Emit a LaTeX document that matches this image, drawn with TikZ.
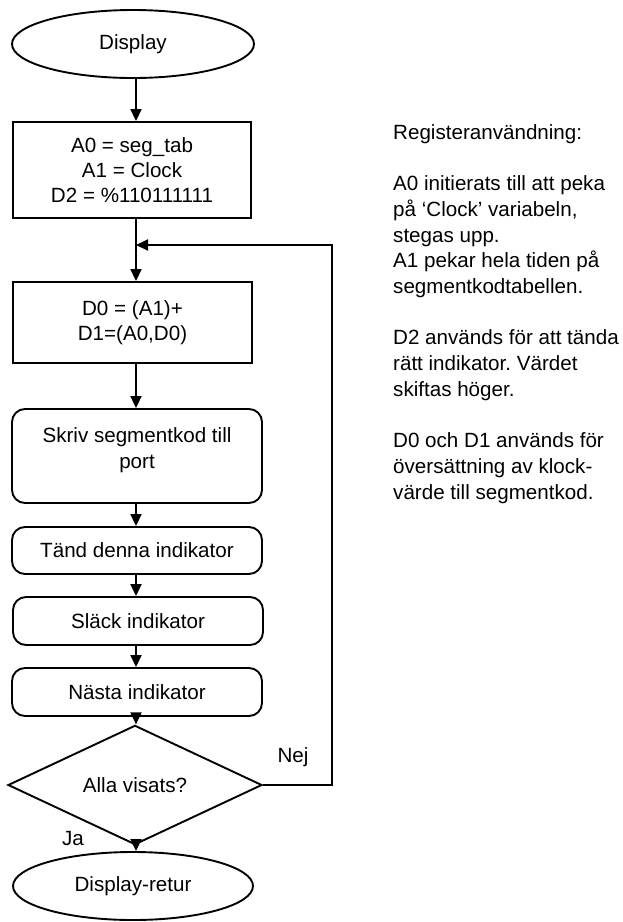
\documentclass[tikz,border=0pt]{standalone}
\usepackage{fontspec}
\setmainfont{Liberation Sans}
\usetikzlibrary{shapes.geometric,arrows.meta}
\frenchspacing
\begin{document}
\begin{tikzpicture}[x=1pt,y=-1pt,
  every node/.style={font=\fontsize{20.6}{25.2}\selectfont, inner sep=0pt},
  line/.style={line width=1.9pt},
  flow/.style={line, -{Triangle[length=12pt,width=11pt]}},
  terminal/.style={draw, line width=1.9pt, ellipse, minimum width=242pt, minimum height=68pt},
  procbox/.style={draw, line width=1.9pt, rectangle, align=center},
  roundbox/.style={draw, line width=1.9pt, rounded corners=13pt, align=center},
  decision/.style={draw, line width=1.9pt, diamond, minimum width=254pt, minimum height=96pt},
]
\useasboundingbox (0,0) rectangle (622,922);

% main column of the flowchart
\node[terminal] (start) at (133,44) {Display};
\node[procbox, minimum width=238pt, minimum height=96pt] (init) at (132,170)
  {A0 = seg\_tab\\A1 = Clock\\D2 = \%110111111};
\node[procbox, minimum width=239pt, minimum height=81pt] (calc) at (132.5,322.5)
  {D0 = (A1)+\\D1=(A0,D0)};
\node[roundbox, minimum width=250pt, minimum height=94pt] (skriv) at (137,456)
  {Skriv segmentkod till\\port\rule[-16pt]{0pt}{0pt}};
\node[roundbox, minimum width=250pt, minimum height=47pt] (tand) at (137,550.5)
  {Tänd denna indikator};
\node[roundbox, minimum width=250pt, minimum height=48pt] (slack) at (138,621)
  {Släck indikator};
\node[roundbox, minimum width=250pt, minimum height=48pt] (nasta) at (137,692)
  {Nästa indikator};
\node[decision] (check) at (135,785) {Alla visats?};
\node[terminal, minimum width=240pt] (stop) at (133,886) {Display-retur};

% branch labels
\node[anchor=base] (nej) at (293,762) {Nej};
\node[anchor=base] (ja) at (73,845) {Ja};

% register notes (node base is the baseline of the last line)
\node[anchor=base west, align=left, font=\fontsize{20.6}{25.7}\selectfont] (notes) at (393,499)
  {Registeranvändning:\\[25.7pt]
   A0 initierats till att peka\\
   på ‘Clock’ variabeln,\\
   stegas upp.\\
   A1 pekar hela tiden på\\
   segmentkodtabellen.\\[25.7pt]
   D2 används för att tända\\
   rätt indikator. Värdet\\
   skiftas höger.\\[25.7pt]
   D0 och D1 används för\\
   översättning av klock-\\
   värde till segmentkod.};

% connectors
\coordinate (spine) at (136,0);
\coordinate (join) at (136,245);
\coordinate (loopright) at (332,245);

\draw[flow] (start.south -| spine) -- (init.north -| spine);
\draw[flow] (init.south -| spine) -- (calc.north -| spine);
\draw[flow] (calc.south -| spine) -- (skriv.north -| spine);
\draw[flow] (skriv.south -| spine) -- (tand.north -| spine);
\draw[flow] (tand.south -| spine) -- (slack.north -| spine);
\draw[flow] (slack.south -| spine) -- (nasta.north -| spine);
\draw[flow] (nasta.south -| spine) -- (check.north -| spine);
\draw[flow] (check.south -| spine) -- (stop.north -| spine);
\draw[flow] (check.east) -| (loopright) -- (join);
\end{tikzpicture}
\end{document}
